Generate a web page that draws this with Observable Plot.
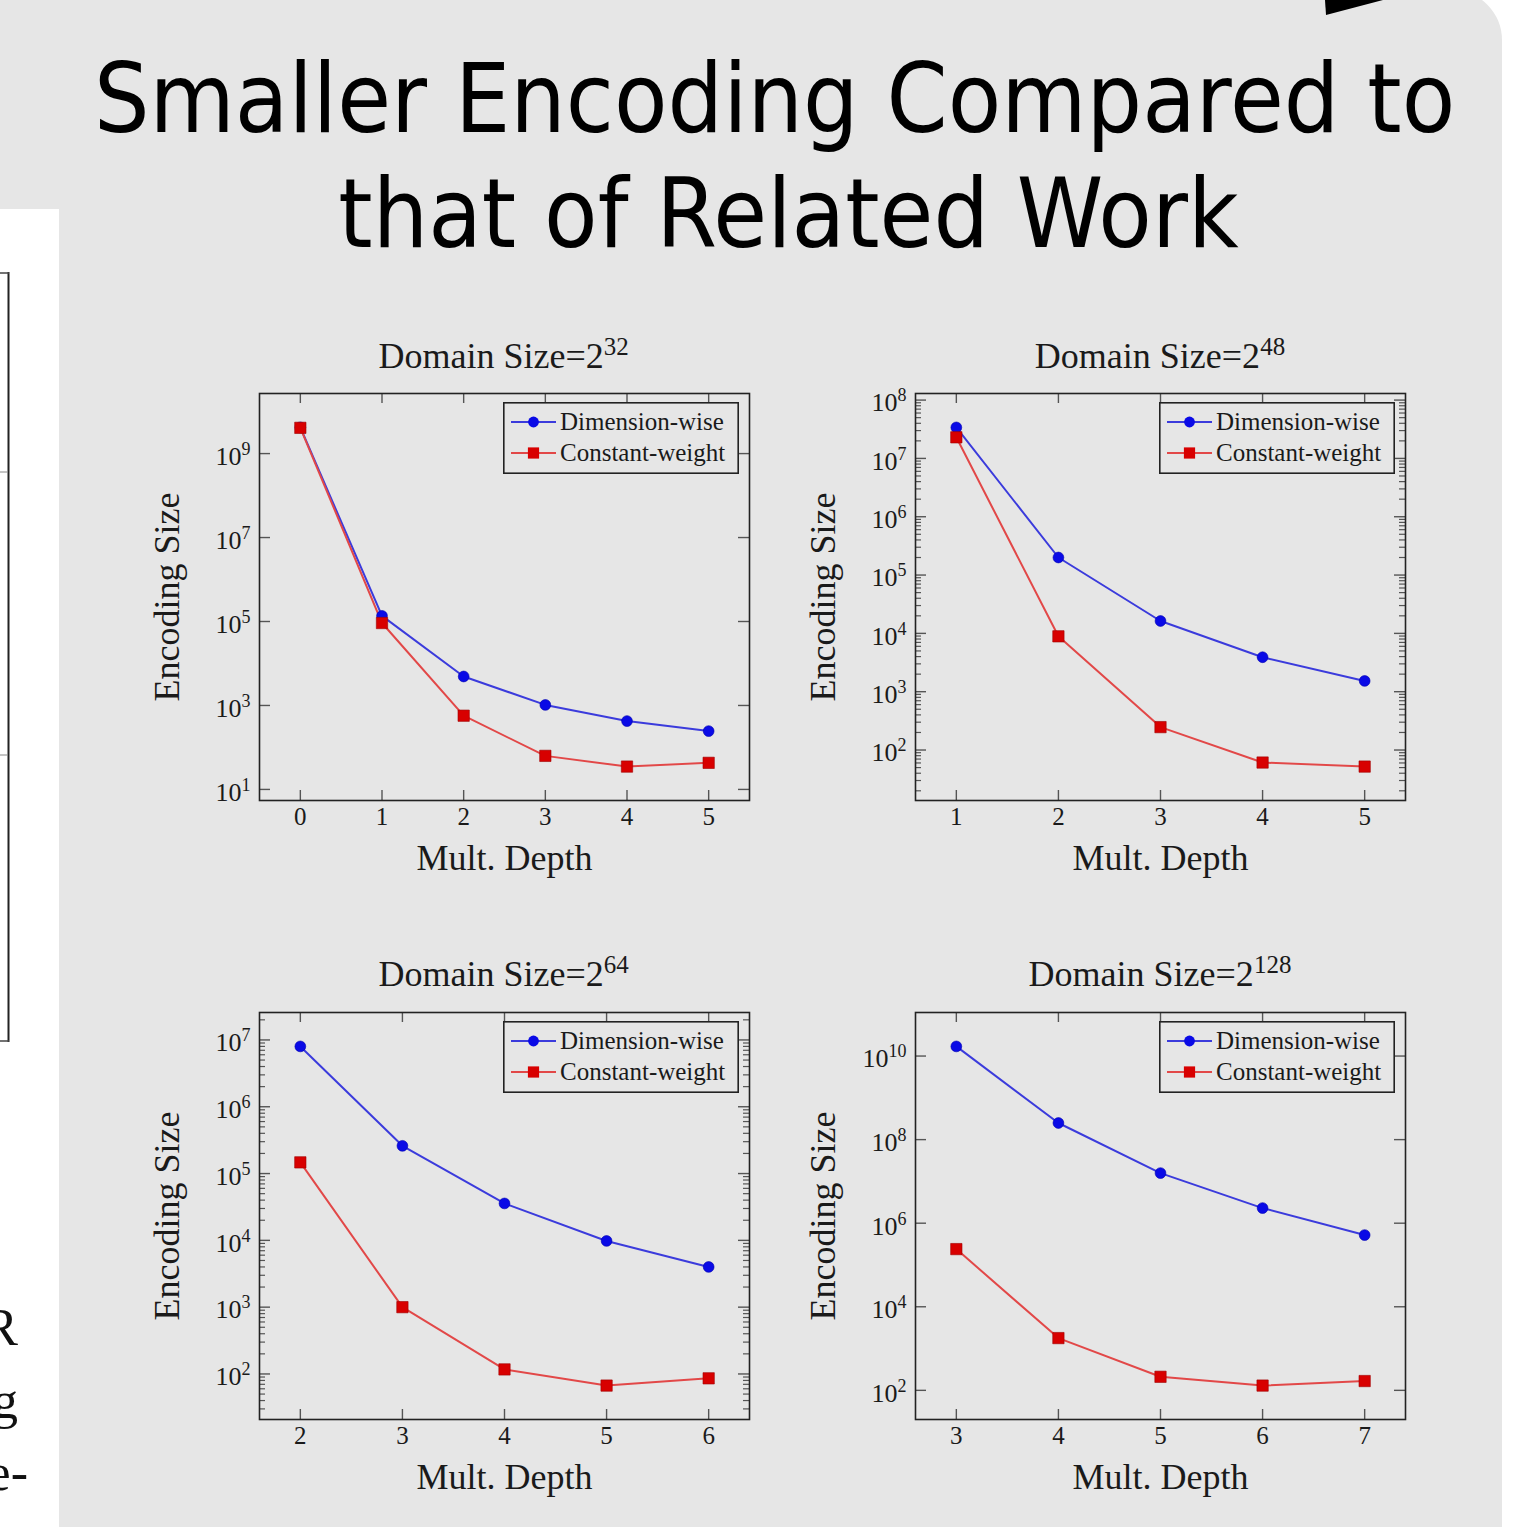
<!DOCTYPE html>
<html>
<head>
<meta charset="utf-8">
<script src="https://cdn.jsdelivr.net/npm/d3@7"></script>
<script src="https://cdn.jsdelivr.net/npm/@observablehq/plot@0.6"></script>
<style>
  html, body { margin: 0; padding: 0; background: #ffffff; }
  #page { position: relative; width: 1527px; height: 1527px; overflow: hidden; background: #ffffff; }
  #slide { position: absolute; left: -20px; top: -10px; width: 1522px; height: 1600px; background: #e6e6e6; border-top-right-radius: 50px; }
  #leftcol { position: absolute; left: 0; top: 209px; width: 59px; height: 1330px; background: #ffffff; overflow: hidden; }
  #title { position: absolute; left: 0; width: 1577px; top: 42px; text-align: center; font-family: "DejaVu Sans", sans-serif; font-size: 96px; line-height: 115px; color: #000; white-space: pre; transform: scaleX(0.9125); transform-origin: 788.5px 0; }
  .ptitle { position: absolute; width: 490px; height: 36px; text-align: center; font-family: "Liberation Serif", "Times New Roman", serif; font-size: 36px; line-height: 36px; color: #1a1a1a; white-space: nowrap; }
  .ptitle span { font-size: 25px; position: relative; top: -13px; }
  .pwrap { position: absolute; }
  .legend { position: absolute; }
</style>
</head>
<body>
<div id="page">
  <div id="slide"></div>
  <svg id="deco" width="1527" height="30" style="position:absolute;left:0;top:0"></svg>
  <div id="leftcol"></div>
  <div id="title"></div>
</div>
<script>
// ---------------- data ----------------
const titleLines = ["Smaller Encoding Compared to\u00a0", "that of Related Work"];
const seriesNames = ["Dimension-wise", "Constant-weight"];
const domainExponents = ["32", "48", "64", "128"];
const xLabel = "Mult. Depth";
const yLabel = "Encoding Size";

const depth32 = [0, 1, 2, 3, 4, 5];
const dimensionWise32 = [4.2e9, 1.36e5, 4900, 1030, 425, 245];
const constantWeight32 = [4.1e9, 9.2e4, 570, 63, 35, 43];

const depth48 = [1, 2, 3, 4, 5];
const dimensionWise48 = [3.4e7, 2.0e5, 1.63e4, 3900, 1530];
const constantWeight48 = [2.3e7, 8.9e3, 247, 61, 52];

const depth64 = [2, 3, 4, 5, 6];
const dimensionWise64 = [8.0e6, 2.6e5, 3.57e4, 9.8e3, 4.0e3];
const constantWeight64 = [1.47e5, 1000, 117, 67, 86];

const depth128 = [3, 4, 5, 6, 7];
const dimensionWise128 = [1.7e10, 2.5e8, 1.58e7, 2.3e6, 5.2e5];
const constantWeight128 = [2.4e5, 1780, 211, 130, 167];

const yTicks32 = [1e1, 1e3, 1e5, 1e7, 1e9];
const yTicks48 = [1e2, 1e3, 1e4, 1e5, 1e6, 1e7, 1e8];
const yTicks64 = [1e2, 1e3, 1e4, 1e5, 1e6, 1e7];
const yTicks128 = [1e2, 1e4, 1e6, 1e8, 1e10];

// ---------------- layout ----------------
const panelData = [
  {exp: domainExponents[0], depth: depth32, dw: dimensionWise32, cw: constantWeight32, yTicks: yTicks32},
  {exp: domainExponents[1], depth: depth48, dw: dimensionWise48, cw: constantWeight48, yTicks: yTicks48},
  {exp: domainExponents[2], depth: depth64, dw: dimensionWise64, cw: constantWeight64, yTicks: yTicks64},
  {exp: domainExponents[3], depth: depth128, dw: dimensionWise128, cw: constantWeight128, yTicks: yTicks128}
];
const panelLayout = [
  {left: 258.6, top: 393.3, minor: false},
  {left: 915, top: 393.3, minor: true},
  {left: 258.6, top: 1012, minor: true},
  {left: 915, top: 1012, minor: false}
];
const FW = 490, FH = 407, ML = 120, MR = 15, MT = 10, MB = 100;
const blueLine = "#3b3bdc", blueFill = "#0a0ae6";
const redLine = "#e24848", redFill = "#d80000";
const serif = "'Liberation Serif', 'Times New Roman', serif";

const page = document.getElementById("page");

// title
const titleDiv = document.getElementById("title");
titleDiv.textContent = titleLines.join("\n");

// decorations (slide remnants)
const deco = d3.select("#deco");
deco.append("polygon").attr("points", "1325,0 1383,0 1326,15").attr("fill", "#000");
const lc = d3.select("#leftcol").append("svg").attr("width", 59).attr("height", 1330);
lc.append("line").attr("x1", 8.5).attr("x2", 8.5).attr("y1", 63).attr("y2", 833).attr("stroke", "#222").attr("stroke-width", 2);
lc.append("line").attr("x1", 0).attr("x2", 9).attr("y1", 64).attr("y2", 64).attr("stroke", "#444").attr("stroke-width", 1.5);
lc.append("line").attr("x1", 0).attr("x2", 9).attr("y1", 832).attr("y2", 832).attr("stroke", "#444").attr("stroke-width", 1.5);
lc.append("line").attr("x1", 0).attr("x2", 8).attr("y1", 263).attr("y2", 263).attr("stroke", "#888").attr("stroke-width", 1);
lc.append("line").attr("x1", 0).attr("x2", 8).attr("y1", 546).attr("y2", 546).attr("stroke", "#888").attr("stroke-width", 1);
[["R", 18, 1136], ["g", 18, 1209], ["e-", 28, 1281]].forEach(([t, x, y]) => {
  lc.append("text").attr("x", x).attr("y", y).attr("text-anchor", "end")
    .attr("font-family", serif).attr("font-size", 52).attr("fill", "#111").text(t);
});

function buildPanel(idx) {
  const P = panelData[idx], L = panelLayout[idx];
  const dwRows = P.depth.map((d, j) => ({depth: d, size: P.dw[j], series: seriesNames[0]}));
  const cwRows = P.depth.map((d, j) => ({depth: d, size: P.cw[j], series: seriesNames[1]}));
  const all = P.dw.concat(P.cw);
  const lo = Math.log10(d3.min(all)), hi = Math.log10(d3.max(all));
  const pad = 0.1 * (hi - lo);
  const yDomain = [Math.pow(10, lo - pad), Math.pow(10, hi + pad)];
  const xr = d3.max(P.depth) - d3.min(P.depth);
  const xDomain = [d3.min(P.depth) - 0.1 * xr, d3.max(P.depth) + 0.1 * xr];
  const minorTicks = [];
  if (L.minor) {
    for (let e = Math.floor(lo - pad); e <= Math.ceil(hi + pad); e++) {
      for (let m = 2; m <= 9; m++) {
        const v = m * Math.pow(10, e);
        if (v > yDomain[0] && v < yDomain[1]) minorTicks.push(v);
      }
    }
  }
  const tickColor = "#555";
  const svg = Plot.plot({
    width: ML + FW + MR, height: MT + FH + MB,
    marginLeft: ML, marginRight: MR, marginTop: MT, marginBottom: MB,
    style: {background: "transparent", fontFamily: serif, fontSize: "25px", color: "#1a1a1a", overflow: "visible"},
    x: {domain: xDomain},
    y: {type: "log", domain: yDomain},
    marks: [
      // ticks (inward, all four sides)
      Plot.tickY(P.yTicks, {y: d => d, insetRight: FW - 11, stroke: tickColor, strokeWidth: 1.4}),
      Plot.tickY(P.yTicks, {y: d => d, insetLeft: FW - 11, stroke: tickColor, strokeWidth: 1.4}),
      Plot.tickY(minorTicks, {y: d => d, insetRight: FW - 6, stroke: tickColor, strokeWidth: 1.2}),
      Plot.tickY(minorTicks, {y: d => d, insetLeft: FW - 6, stroke: tickColor, strokeWidth: 1.2}),
      Plot.tickX(P.depth, {x: d => d, insetTop: FH - 10, stroke: tickColor, strokeWidth: 1.4}),
      Plot.tickX(P.depth, {x: d => d, insetBottom: FH - 10, stroke: tickColor, strokeWidth: 1.4}),
      Plot.frame({stroke: "#222", strokeWidth: 1.6}),
      Plot.axisX(P.depth, {tickSize: 0, tickPadding: 7, fontSize: 25, label: null, tickFormat: d => String(d)}),
      Plot.axisY(P.yTicks, {tickSize: 0, tickPadding: 9, fontSize: 26, dy: 3, label: null,
        tickFormat: d => "10^" + Math.round(Math.log10(d))}),
      Plot.text([xLabel], {frameAnchor: "bottom", textAnchor: "middle", lineAnchor: "middle", dy: 58, fontSize: 36, fill: "#1a1a1a"}),
      Plot.text([yLabel], {frameAnchor: "left", textAnchor: "middle", lineAnchor: "middle", rotate: -90, dx: -92, fontSize: 36, fill: "#1a1a1a"}),
      // series
      Plot.line(dwRows, {x: "depth", y: "size", stroke: blueLine, strokeWidth: 2}),
      Plot.line(cwRows, {x: "depth", y: "size", stroke: redLine, strokeWidth: 2}),
      Plot.dot(dwRows, {x: "depth", y: "size", r: 5.4, fill: blueFill, stroke: "#0000b0", strokeWidth: 0.6, symbol: "circle"}),
      Plot.dot(cwRows, {x: "depth", y: "size", r: 6.4, fill: redFill, stroke: "#a00000", strokeWidth: 0.6, symbol: "square"})
    ]
  });
  // superscript exponents on y tick labels
  d3.select(svg).selectAll('g[aria-label="y-axis tick label"] text').each(function () {
    const t = d3.select(this);
    const parts = t.text().split("^");
    if (parts.length === 2) {
      t.text(parts[0]);
      t.append("tspan").attr("dy", -10).attr("font-size", 18).text(parts[1]);
    }
  });
  const wrap = document.createElement("div");
  wrap.className = "pwrap";
  wrap.style.left = (L.left - ML) + "px";
  wrap.style.top = (L.top - MT) + "px";
  wrap.appendChild(svg);
  page.appendChild(wrap);

  // panel title
  const t = document.createElement("div");
  t.className = "ptitle";
  t.style.left = L.left + "px";
  t.style.top = (L.top - 55.8) + "px";
  t.innerHTML = "Domain Size=2<span>" + P.exp + "</span>";
  page.appendChild(t);

  // legend
  const lw = 236, lh = 72;
  const lg = d3.create("svg").attr("width", lw).attr("height", lh).attr("class", "legend")
    .style("left", (L.left + FW - 10 - lw) + "px").style("top", (L.top + 9) + "px");
  lg.append("rect").attr("x", 0.8).attr("y", 0.8).attr("width", lw - 1.6).attr("height", lh - 1.6)
    .attr("fill", "#e6e6e6").attr("stroke", "#222").attr("stroke-width", 1.6);
  const rows = [
    {name: seriesNames[0], y: 20, line: blueLine, fill: blueFill, sym: "circle"},
    {name: seriesNames[1], y: 51, line: redLine, fill: redFill, sym: "square"}
  ];
  rows.forEach(r => {
    lg.append("line").attr("x1", 8).attr("x2", 53).attr("y1", r.y).attr("y2", r.y).attr("stroke", r.line).attr("stroke-width", 2);
    if (r.sym === "circle") lg.append("circle").attr("cx", 30.5).attr("cy", r.y).attr("r", 5.4).attr("fill", r.fill);
    else lg.append("rect").attr("x", 30.5 - 5.6).attr("y", r.y - 5.6).attr("width", 11.2).attr("height", 11.2).attr("fill", r.fill);
    lg.append("text").attr("x", 57).attr("y", r.y + 8).attr("font-family", serif).attr("font-size", 25)
      .attr("fill", "#1a1a1a").text(r.name);
  });
  page.appendChild(lg.node());
}
[0, 1, 2, 3].forEach(buildPanel);
</script>
</body>
</html>
